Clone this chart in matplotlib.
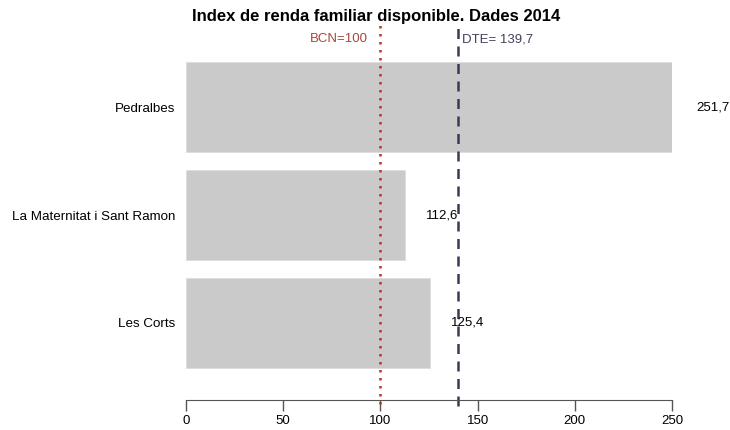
import numpy as np
import matplotlib.pyplot as plt

plt.rcParams['font.family'] = ['Liberation Sans', 'DejaVu Sans']

barris = ["Les Corts", "La Maternitat i Sant Ramon", "Pedralbes"]
valors = [125.4, 112.6, 251.7]
etiquetes = ["125,4", "112,6", "251,7"]
bcn = 100
dte = 139.7
ticks = [0, 50, 100, 150, 200, 250]

fig = plt.figure(figsize=(7.3, 4.3), dpi=100)
ax = fig.add_axes([186 / 730, 30 / 430, 486 / 730, 378 / 430])

pos = np.arange(len(barris))
ax.barh(pos, valors, height=0.835, color="#cacaca", edgecolor="#dddddd", linewidth=0.6)

for y, v, t in zip(pos, valors, etiquetes):
    ax.text(v + 11, y, t, ha="left", va="center", fontsize=9.5, clip_on=False)

# linies de referencia (ciutat i districte)
ax.axvline(bcn, ymin=-0.01, color="#b0392b", linestyle=(0, (1, 2.2)), linewidth=1.8, clip_on=False)
ax.axvline(dte, ymin=-0.015, color="#3a3a58", linestyle=(0, (4, 3)), linewidth=1.8, clip_on=False)

ax.text(bcn - 6.5, 2.63, "BCN=100", color="#a9453a", ha="right", va="center", fontsize=9.5)
ax.text(dte + 2.5, 2.63, "DTE= 139,7", color="#414159", ha="left", va="center", fontsize=9.5)

ax.set_xlim(0, 250)
ax.set_ylim(-0.715, 2.79)
ax.set_yticks(pos)
ax.set_yticklabels(barris, fontsize=9.6)
ax.tick_params(axis="y", length=0, pad=8)
ax.set_xticks(ticks)
ax.set_xticklabels([str(t) for t in ticks], fontsize=9.5)
ax.tick_params(axis="x", length=8, width=1, color="#555555", pad=3)

for s in ["top", "right", "left"]:
    ax.spines[s].set_visible(False)
ax.spines["bottom"].set_color("#555555")
ax.spines["bottom"].set_bounds(0, 250)

fig.text(376 / 730, 1 - 17 / 430, "Index de renda familiar disponible. Dades 2014",
         ha="center", va="center", fontsize=12, fontweight="bold")

fig.savefig("out.png", dpi=100)
